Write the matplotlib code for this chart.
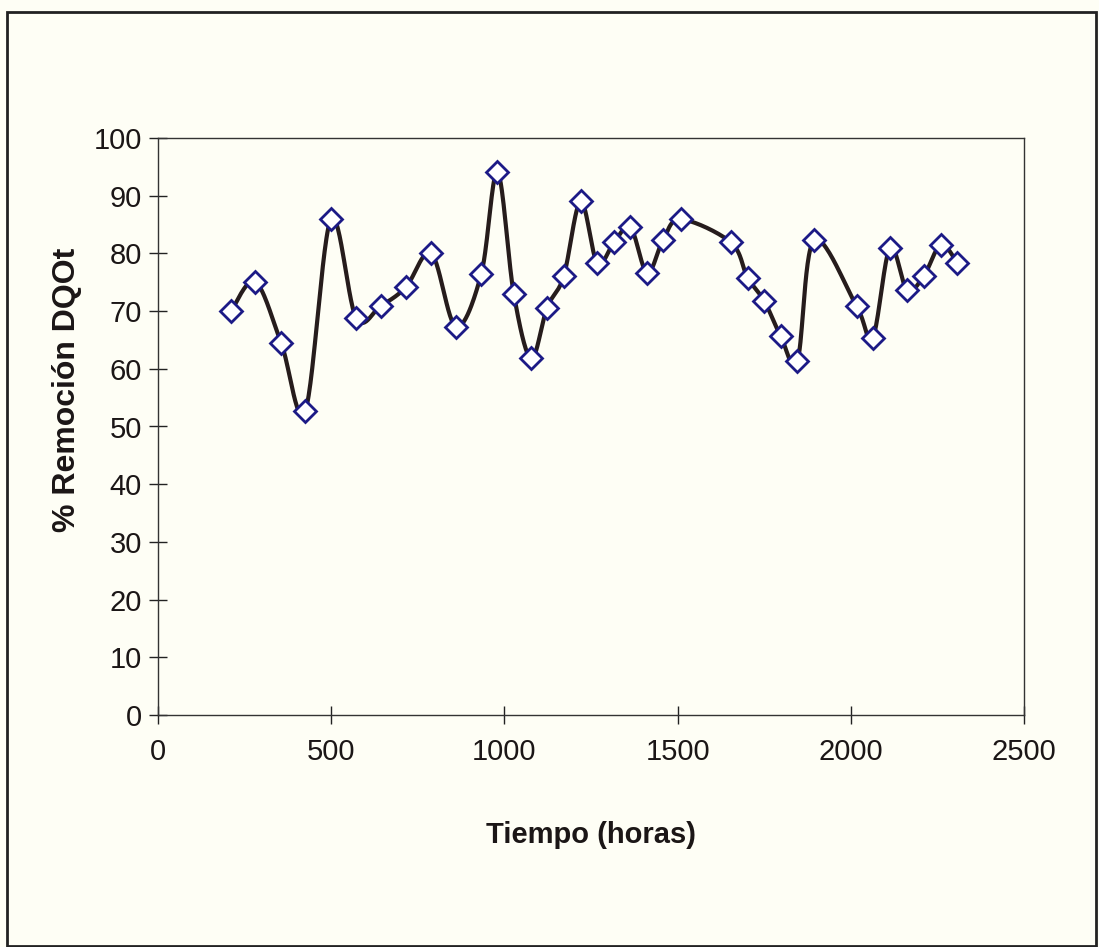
import numpy as np
import matplotlib
matplotlib.use("Agg")
import matplotlib.pyplot as plt
from matplotlib.patches import Rectangle

# ---- data ----
tiempo_horas = [211, 281, 356, 425, 499, 572, 643, 715, 789, 860, 933, 980,
                1027, 1077, 1123, 1171, 1220, 1268, 1316, 1364, 1412, 1458, 1509,
                1654, 1702, 1750, 1798, 1846, 1894, 2017, 2063, 2113, 2162, 2210,
                2260, 2308]
remocion_dqot = [70.0, 75.1, 64.4, 52.7, 85.9, 68.8, 70.9, 74.1, 80.0, 67.3, 76.4, 94.1,
                 73.0, 61.8, 70.6, 76.0, 89.0, 78.3, 81.9, 84.5, 76.6, 82.3, 85.9,
                 81.9, 75.8, 71.8, 65.6, 61.4, 82.3, 70.8, 65.3, 81.0, 73.7, 76.0,
                 81.5, 78.3]
x_ticks = [0, 500, 1000, 1500, 2000, 2500]
y_ticks = [0, 10, 20, 30, 40, 50, 60, 70, 80, 90, 100]
x_label = "Tiempo (horas)"
y_label = "% Remoción DQOt"

W, H = 1099, 947
bg = "#fefef5"
txt = "#1b1616"

plt.rcParams["font.family"] = ["Liberation Sans", "DejaVu Sans"]

fig = plt.figure(figsize=(W / 100, H / 100), dpi=100, facecolor=bg)
ax_left, ax_right, ax_top, ax_bot = 158, 1024, 138, 715
ax = fig.add_axes([ax_left / W, (H - ax_bot) / H, (ax_right - ax_left) / W, (ax_bot - ax_top) / H])
ax.set_facecolor(bg)

ax.set_xlim(0, 2500)
ax.set_ylim(0, 100)

# Excel-style smoothed line (Bezier through points, computed in screen-proportional space)
sx = (ax_right - ax_left) / 2500.0
sy = (ax_bot - ax_top) / 100.0
P = np.column_stack([np.asarray(tiempo_horas, float) * sx, np.asarray(remocion_dqot, float) * sy])
n = len(P)
curve = []
for i in range(n - 1):
    p0 = P[i - 1] if i > 0 else P[i]
    p1 = P[i]
    p2 = P[i + 1]
    p3 = P[i + 2] if i + 2 < n else P[i + 1]
    c1 = p1 + (p2 - p0) / 6.0
    c2 = p2 - (p3 - p1) / 6.0
    t = np.linspace(0, 1, 30)[:, None]
    seg = ((1 - t) ** 3) * p1 + 3 * ((1 - t) ** 2) * t * c1 + 3 * (1 - t) * t ** 2 * c2 + t ** 3 * p2
    curve.append(seg if i == 0 else seg[1:])
curve = np.vstack(curve)
ax.plot(curve[:, 0] / sx, curve[:, 1] / sy, color="#261c1c", lw=3.0, zorder=2, solid_capstyle="round")
ax.plot(tiempo_horas, remocion_dqot, linestyle="none", marker="D", ms=11.2,
        mfc="white", mec="#1c1a86", mew=2.0, zorder=3)

ax.set_xticks(x_ticks)
ax.set_yticks(y_ticks)
ax.set_xticklabels([str(v) for v in x_ticks])
ax.set_yticklabels([str(v) for v in y_ticks])
ax.tick_params(axis="both", direction="inout", length=13, width=1.0, colors="#222222",
               labelcolor=txt, labelsize=21)
ax.tick_params(axis="x", pad=10)
ax.tick_params(axis="y", pad=5)
for s in ax.spines.values():
    s.set_color("#333333")
    s.set_linewidth(1.0)

ax.set_xlabel(x_label, fontsize=21, fontweight="bold", color=txt, labelpad=40)
ax.set_ylabel(y_label, fontsize=23, fontweight="bold", color=txt)
ax.yaxis.set_label_coords(-0.088, (ax_bot - 390) / (ax_bot - ax_top))

# outer chart frame
fig.patches.append(Rectangle((7 / W, 1 / H), (1096 - 7) / W, (H - 13) / H,
                             transform=fig.transFigure, fill=False,
                             edgecolor="#222222", linewidth=2.0))

fig.savefig("out.png", dpi=100, facecolor=bg)
